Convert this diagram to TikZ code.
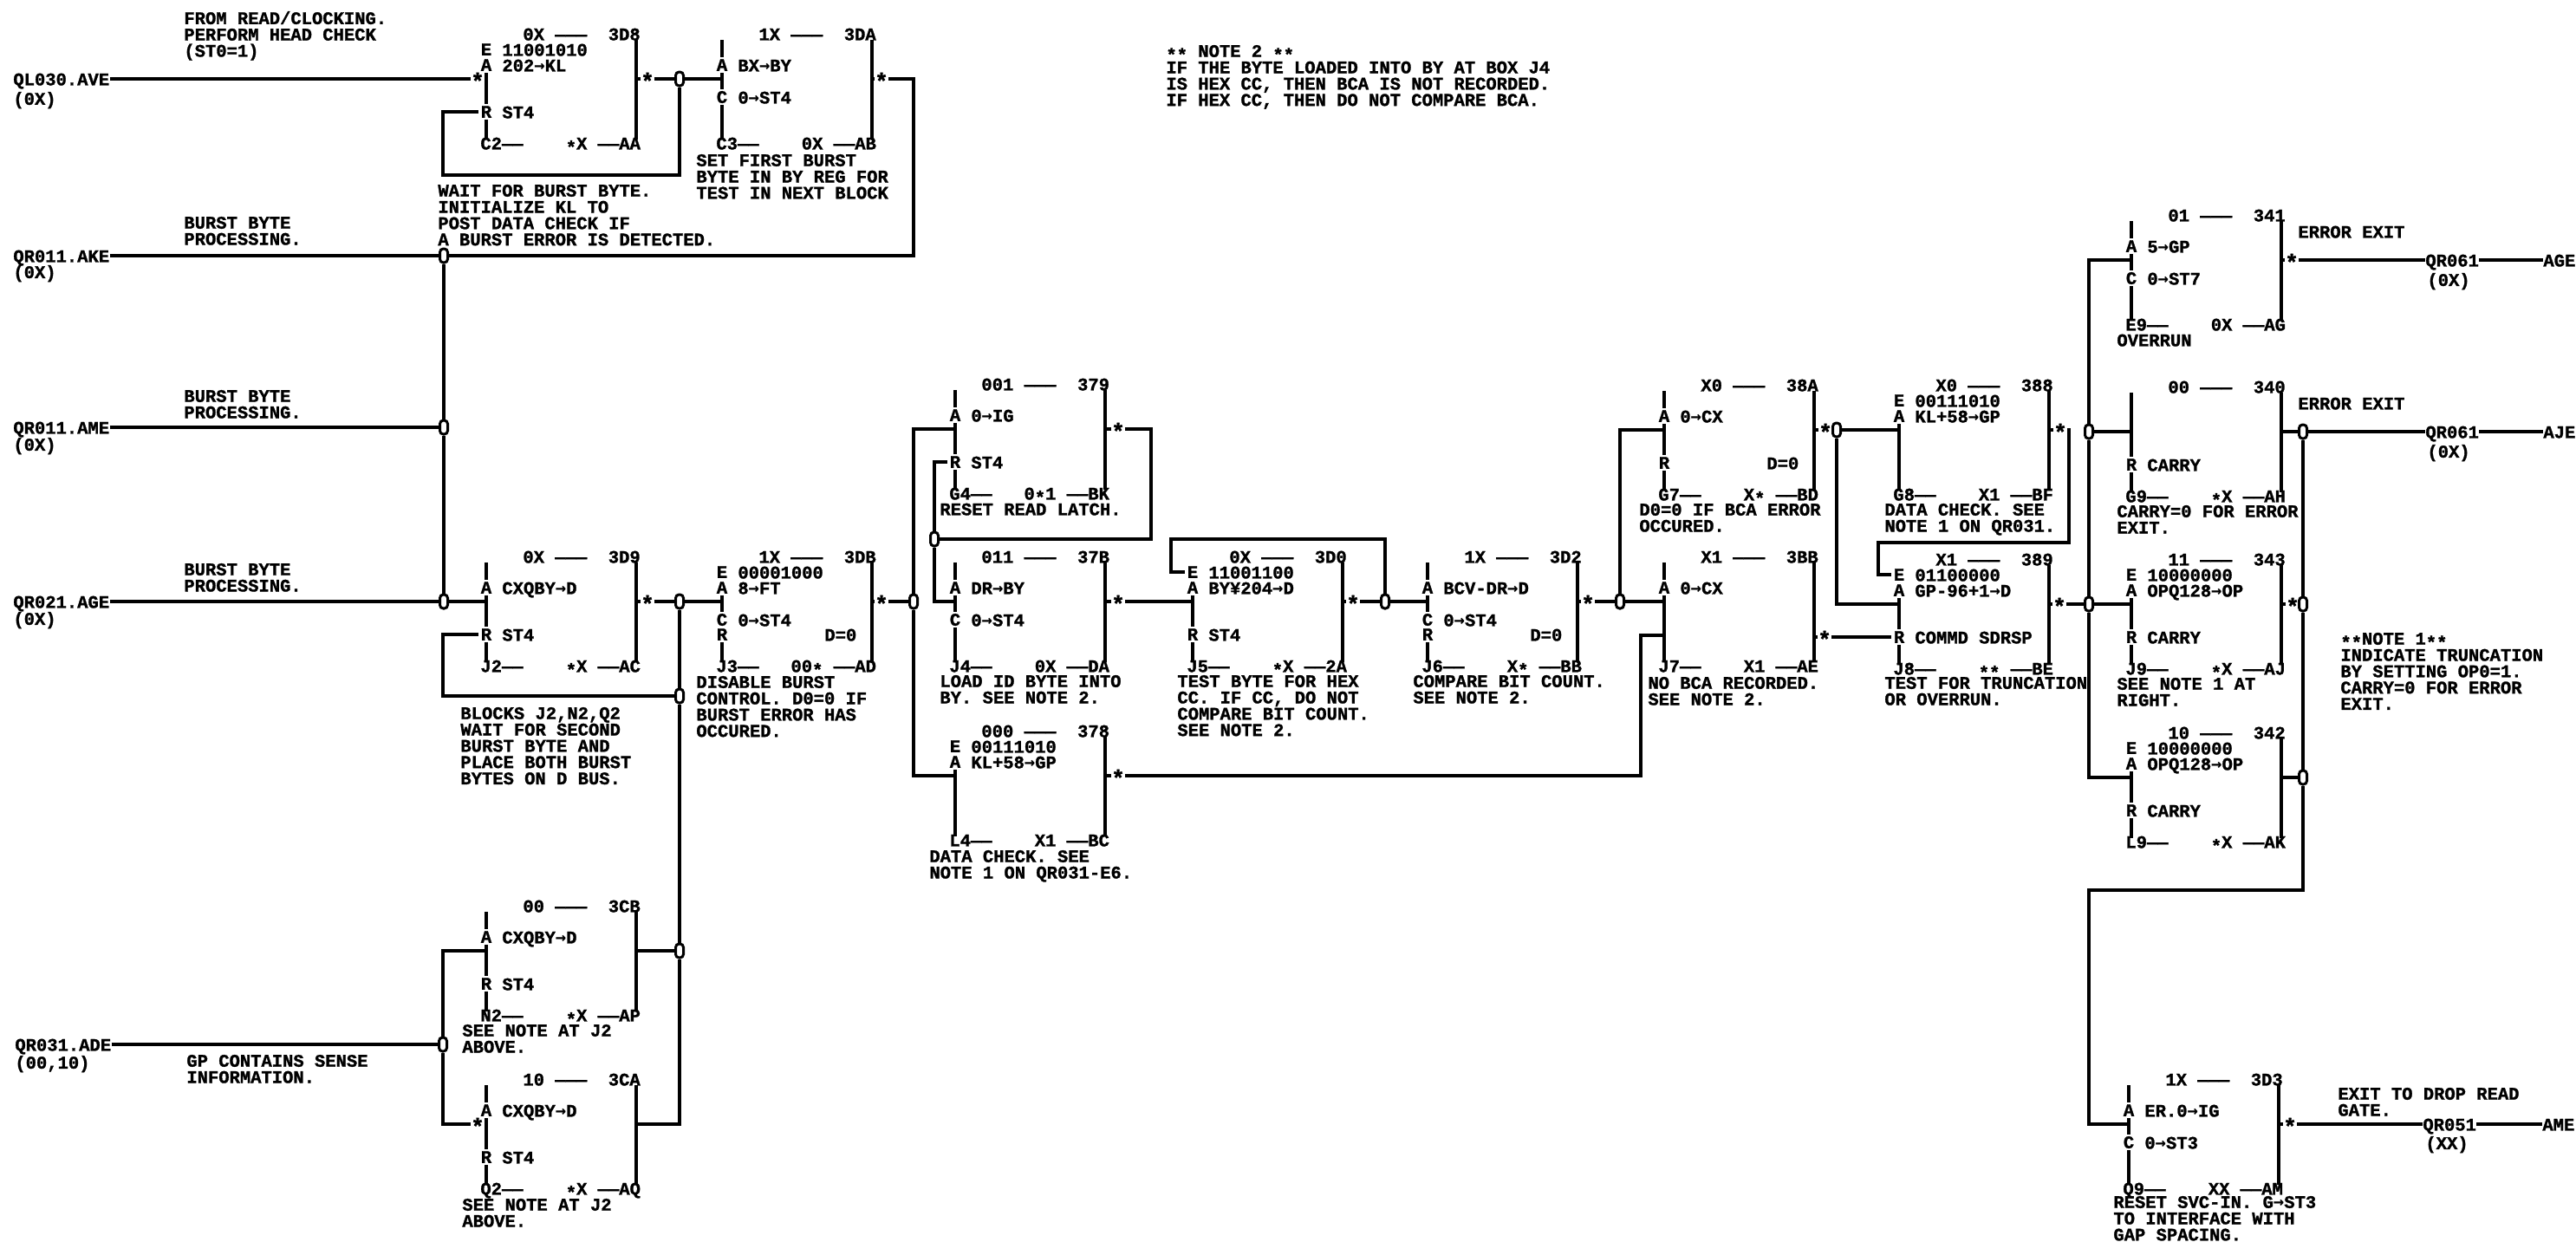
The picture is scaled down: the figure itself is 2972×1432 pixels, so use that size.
\documentclass[tikz,border=0pt]{standalone}
\usepackage{fontspec}
\newfontfamily\ibmf{Liberation Mono}[BoldFeatures={FakeBold=1.3}]
\newfontfamily\arf{DejaVu Sans Mono}
\newcommand\ibm{\ibmf\bfseries\fontsize{10.25}{9.4}\selectfont}
\newcommand\ar{{\arf\bfseries\fontsize{10.25}{9.4}\selectfont →}}
\newcommand\st{\raisebox{-.22em}{*}}
\newcommand\bc[1]{~~~~#1~}
\newcommand\bcc[1]{~~~#1~}
\def\rowE{18}\def\rowA{36}\def\rowC{73}\def\rowR{90}
\tikzset{
 wire/.style={line width=2.2pt},
 bline/.style={line width=1.8pt},
 tx/.style={font=\ibm,inner sep=0pt,anchor=north west,align=left,execute at begin node={\rule{0pt}{7.2pt}}},
 letter/.style={font=\ibm,inner sep=1pt,fill=white,anchor=center},
 junc/.style={draw,line width=1.5pt,fill=white,rounded corners=2pt,minimum width=4.5pt,minimum height=8pt,inner sep=0pt},
 stm/.style={font=\ibm\fontsize{13}{13}\selectfont,inner sep=0pt,text height=.6em,text depth=0pt},
}
\newcommand\lab[4]{\node[tx] (#1) at (#2,#3-7.4) {#4};}
\newcommand\blk[9][42]{%
 \def\curN{#2}\def\curL{#3}\def\curT{#4}%
 \coordinate (#2-in) at (#3,#4+52);
 \coordinate (#2-out) at (#3+173,#4+52);
 \coordinate (#2-lt) at (#3,#4+7);
 \coordinate (#2-lb) at (#3,#4+122);
 \coordinate (#2-rt) at (#3+173,#4+7);
 \coordinate (#2-rb) at (#3+173,#4+122);
 \draw[bline] (#2-lt) -- (#2-lb);
 \draw[bline] (#2-rt) -- (#2-rb);
 \node[tx] (#2-top) at (#3+#1,#4-7.4) {#5~———~~#6};
 \node[tx] (#2-bot) at (#3-7,#4+126-7.4) {#7——#8——#9};
}
\newcommand\rw[2]{%
 \node[letter] (\curN-#1) at (\curL,\curT+\csname row#1\endcsname) {#1};
 \node[tx] (\curN-#1t) at (\curL+18,\curT+\csname row#1\endcsname-7.4) {#2};
}
% E row: the left rule starts only below the E and A letters
\newcommand\rwE[1]{%
 \fill[white] (\curL-7,\curT+4) rectangle (\curL+7,\curT+30);
 \rw{E}{#1}
}
\newcommand\dz{\node[tx] (\curN-dz) at (\curL+118,\curT+90-7.4) {D=0};}
\begin{document}
\begin{tikzpicture}[x=0.5pt,y=-0.5pt]
\useasboundingbox[fill=white] (0,0) rectangle (2972,1432);
% blocks
\blk{bC2}{561}{39}{0X}{3D8}{C2}{\bc{\st X}}{AA}\rwE{11001010}\rw{A}{202\ar KL}\rw{R}{ST4}
\blk{bC3}{833}{39}{1X}{3DA}{C3}{\bc{0X}}{AB}\rw{A}{BX\ar BY}\rw{C}{0\ar ST4}
\blk{bJ2}{561}{642}{0X}{3D9}{J2}{\bc{\st X}}{AC}\rw{A}{CXQBY\ar D}\rw{R}{ST4}
\blk{bJ3}{833}{642}{1X}{3DB}{J3}{\bcc{00\st}}{AD}\rwE{00001000}\rw{A}{8\ar FT}\rw{C}{0\ar ST4}\rw{R}{}\dz
\blk[30]{bG4}{1102}{443}{001}{379}{G4}{\bcc{0\st 1}}{BK}\rw{A}{0\ar IG}\rw{R}{ST4}
\blk[30]{bJ4}{1102}{642}{011}{37B}{J4}{\bc{0X}}{DA}\rw{A}{DR\ar BY}\rw{C}{0\ar ST4}
\blk[30]{bL4}{1102}{843}{000}{378}{L4}{\bc{X1}}{BC}\rwE{00111010}\rw{A}{KL+58\ar GP}
\blk{bJ5}{1376}{642}{0X}{3D0}{J5}{\bc{\st X}}{2A}\rwE{11001100}\rw{A}{BY¥204\ar D}\rw{R}{ST4}
\blk{bJ6}{1647}{642}{1X}{3D2}{J6}{\bc{X\st}}{BB}\rw{A}{BCV-DR\ar D}\rw{C}{0\ar ST4}\rw{R}{}\dz
\blk{bG7}{1920}{444}{X0}{38A}{G7}{\bc{X\st}}{BD}\rw{A}{0\ar CX}\rw{R}{}\dz
\blk{bJ7}{1920}{642}{X1}{3BB}{J7}{\bc{X1}}{AE}\rw{A}{0\ar CX}
\blk{bG8}{2191}{444}{X0}{388}{G8}{\bc{X1}}{BF}\rwE{00111010}\rw{A}{KL+58\ar GP}
\blk{bJ8}{2191}{645}{X1}{389}{J8}{\bc{\st\st}}{BE}\rwE{01100000}\rw{A}{GP-96+1\ar D}\rw{R}{COMMD SDRSP}
\blk{bE9}{2459}{248}{01}{341}{E9}{\bc{0X}}{AG}\rw{A}{5\ar GP}\rw{C}{0\ar ST7}
\blk{bG9}{2459}{446}{00}{340}{G9}{\bc{\st X}}{AH}\rw{R}{CARRY}
\blk{bJ9}{2459}{645}{11}{343}{J9}{\bc{\st X}}{AJ}\rwE{10000000}\rw{A}{OPQ128\ar OP}\rw{R}{CARRY}
\blk{bL9}{2459}{845}{10}{342}{L9}{\bc{\st X}}{AK}\rwE{10000000}\rw{A}{OPQ128\ar OP}\rw{R}{CARRY}
\blk{bN2}{561}{1045}{00}{3CB}{N2}{\bc{\st X}}{AP}\rw{A}{CXQBY\ar D}\rw{R}{ST4}
\blk{bQ2}{561}{1245}{10}{3CA}{Q2}{\bc{\st X}}{AQ}\rw{A}{CXQBY\ar D}\rw{R}{ST4}
\blk{bQ9}{2456}{1245}{1X}{3D3}{Q9}{\bc{XX}}{AM}\rw{A}{ER.0\ar IG}\rw{C}{0\ar ST3}
% free text
\lab{tFr}{212}{20}{FROM READ/CLOCKING.\\PERFORM HEAD CHECK\\(ST0=1)}
\lab{in1}{15}{91}{QL030.AVE}\lab{in1p}{15}{113}{(0X)}
\lab{in2}{15}{295}{QR011.AKE}\lab{in2p}{15}{313}{(0X)}
\lab{in3}{15}{493}{QR011.AME}\lab{in3p}{15}{512}{(0X)}
\lab{in4}{15}{694}{QR021.AGE}\lab{in4p}{15}{713}{(0X)}
\lab{in5}{17}{1205}{QR031.ADE}\lab{in5p}{17}{1225}{(00,10)}
\lab{tB1}{212}{257}{BURST BYTE\\PROCESSING.}
\lab{tB2}{212}{457}{BURST BYTE\\PROCESSING.}
\lab{tB3}{212}{657}{BURST BYTE\\PROCESSING.}
\lab{tGP}{215}{1224}{GP CONTAINS SENSE\\INFORMATION.}
\lab{tC2}{505}{220}{WAIT FOR BURST BYTE.\\INITIALIZE KL TO\\POST DATA CHECK IF\\A BURST ERROR IS DETECTED.}
\lab{tC3}{803}{185}{SET FIRST BURST\\BYTE IN BY REG FOR\\TEST IN NEXT BLOCK}
\lab{tJ2}{531}{823}{BLOCKS J2,N2,Q2\\WAIT FOR SECOND\\BURST BYTE AND\\PLACE BOTH BURST\\BYTES ON D BUS.}
\lab{tJ3}{803}{787}{DISABLE BURST\\CONTROL. D0=0 IF\\BURST ERROR HAS\\OCCURED.}
\lab{tN2}{533}{1189}{SEE NOTE AT J2\\ABOVE.}
\lab{tQ2}{533}{1390}{SEE NOTE AT J2\\ABOVE.}
\lab{tG4}{1084}{587}{RESET READ LATCH.}
\lab{tJ4}{1084}{786}{LOAD ID BYTE INTO\\BY. SEE NOTE 2.}
\lab{tL4}{1072}{988}{DATA CHECK. SEE\\NOTE 1 ON QR031-E6.}
\lab{tJ5}{1358}{786}{TEST BYTE FOR HEX\\CC. IF CC, DO NOT\\COMPARE BIT COUNT.\\SEE NOTE 2.}
\lab{tJ6}{1630}{786}{COMPARE BIT COUNT.\\SEE NOTE 2.}
\lab{tG7}{1891}{588}{D0=0 IF BCA ERROR\\OCCURED.}
\lab{tJ7}{1901}{788}{NO BCA RECORDED.\\SEE NOTE 2.}
\lab{tG8}{2174}{588}{DATA CHECK. SEE\\NOTE 1 ON QR031.}
\lab{tJ8}{2174}{788}{TEST FOR TRUNCATION\\OR OVERRUN.}
\lab{tE9}{2442}{392}{OVERRUN}
\lab{tG9}{2442}{590}{CARRY=0 FOR ERROR\\EXIT.}
\lab{tJ9}{2442}{789}{SEE NOTE 1 AT\\RIGHT.}
\lab{tQ9}{2438}{1387}{RESET SVC-IN. G\ar ST3\\TO INTERFACE WITH\\GAP SPACING.}
\lab{tEE1}{2651}{267}{ERROR EXIT}
\lab{tEE2}{2651}{465}{ERROR EXIT}
\lab{tDrop}{2697}{1262}{EXIT TO DROP READ\\GATE.}
\lab{tN1}{2700}{737}{\st\st NOTE 1\st\st\\INDICATE TRUNCATION\\BY SETTING OP0=1.\\CARRY=0 FOR ERROR\\EXIT.}
\lab{tN22}{1345}{59}{\st\st\ NOTE 2 \st\st\\IF THE BYTE LOADED INTO BY AT BOX J4\\IS HEX CC, THEN BCA IS NOT RECORDED.\\IF HEX CC, THEN DO NOT COMPARE BCA.}
\lab{ex1}{2798}{300}{QR061}\lab{ex1p}{2800}{322}{(0X)}\lab{ex1b}{2934}{300}{AGE}
\lab{ex2}{2798}{498}{QR061}\lab{ex2p}{2800}{520}{(0X)}\lab{ex2b}{2934}{498}{AJE}
\lab{ex3}{2795}{1297}{QR051}\lab{ex3p}{2798}{1318}{(XX)}\lab{ex3b}{2933}{1297}{AME}
% stars
\node[stm] (s1) at (551,91) {\st};
\node[stm] (s2) at (747,91) {\st};
\node[stm] (s3) at (1017,91) {\st};
\node[stm] (s4) at (747,694) {\st};
\node[stm] (s5) at (551,1297) {\st};
\node[stm] (s6) at (1017,694) {\st};
\node[stm] (s7) at (1290,495) {\st};
\node[stm] (s8) at (1290,694) {\st};
\node[stm] (s9) at (1561,694) {\st};
\node[stm] (s10) at (1832,694) {\st};
\node[stm] (s11) at (1290,895) {\st};
\node[stm] (s12) at (2106,496) {\st};
\node[stm] (s13) at (2377,496) {\st};
\node[stm] (s14) at (2105,735) {\st};
\node[stm] (s15) at (2376,697) {\st};
\node[stm] (s16) at (2644,300) {\st};
\node[stm] (s17) at (2645,697) {\st};
\node[stm] (s18) at (2642,1297) {\st};
% junctions
\node[junc] (j1) at (784,91) {};
\node[junc] (jB) at (512,295) {};
\node[junc] (jC) at (512,493) {};
\node[junc] (jD) at (512,694) {};
\node[junc] (j5) at (784,694) {};
\node[junc] (j6) at (784,803) {};
\node[junc] (j7) at (784,1097) {};
\node[junc] (j8) at (511,1205) {};
\node[junc] (j9) at (1054,694) {};
\node[junc] (j10) at (1078,622) {};
\node[junc] (j11) at (1598,694) {};
\node[junc] (j12) at (1869,694) {};
\node[junc] (j13) at (2119,496) {};
\node[junc] (j14) at (2410,697) {};
\node[junc] (j15) at (2410,498) {};
\node[junc] (j16) at (2657,498) {};
\node[junc] (j17) at (2657,697) {};
\node[junc] (j18) at (2657,897) {};
% bend points
\coordinate (p1) at (784,202);
\coordinate (p2) at (511,202);
\coordinate (p3) at (1054,295);
\coordinate (p4) at (511,803);
\coordinate (p5) at (784,1297);
\coordinate (p6) at (1328,622);
\coordinate (p7) at (1328,495);
\coordinate (p8) at (1351,622);
\coordinate (p9) at (1598,622);
\coordinate (p10) at (1893,895);
\coordinate (p11) at (1920,733);
\coordinate (p12) at (2387,496);
\coordinate (p13) at (2387,626);
\coordinate (p14) at (2167,626);
\coordinate (p15) at (2093,735);
\coordinate (p16) at (2657,1027);
\coordinate (p17) at (2410,1027);
\coordinate (p18) at (1893,733);
\coordinate (p19) at (511,1297);
% connectors
\draw[wire] (in1.east |- s1) -- (s1);
\draw[wire] (s1) -- (bC2-in);
\draw[wire] (bC2-out) -- (s2);
\draw[wire] (s2) -- (j1);
\draw[wire] (j1) -- (bC3-in);
\draw[wire] (j1) -- (p1) -- (p2) |- (bC2-R);
\draw[wire] (bC3-out) -- (s3);
\draw[wire] (s3) -| (p3) -- (jB);
\draw[wire] (in2.east |- jB) -- (jB);
\draw[wire] (jB) -- (jC);
\draw[wire] (jC) -- (jD);
\draw[wire] (in3.east |- jC) -- (jC);
\draw[wire] (in4.east |- jD) -- (jD);
\draw[wire] (jD) -- (bJ2-in);
\draw[wire] (bJ2-out) -- (s4);
\draw[wire] (s4) -- (j5);
\draw[wire] (j5) -- (bJ3-in);
\draw[wire] (j5) -- (j6);
\draw[wire] (j6) -- (j7);
\draw[wire] (j6) -- (p4) |- (bJ2-R);
\draw[wire] (j7) -- (bN2-out);
\draw[wire] (j7) -- (p5) -- (bQ2-out);
\draw[wire] (in5.east |- j8) -- (j8);
\draw[wire] (j8) |- (bN2-in);
\draw[wire] (j8) -- (p19) -- (s5);
\draw[wire] (s5) -- (bQ2-in);
\draw[wire] (bJ3-out) -- (s6);
\draw[wire] (s6) -- (j9);
\draw[wire] (j9) |- (bG4-in);
\draw[wire] (j9) |- (bL4-in);
\draw[wire] (bG4-out) -- (s7);
\draw[wire] (s7) -- (p7) -- (p6) -- (j10);
\draw[wire] (j10) |- (bG4-R);
\draw[wire] (j10) |- (bJ4-in);
\draw[wire] (bJ4-out) -- (s8);
\draw[wire] (s8) -- (bJ5-in);
\draw[wire] (bJ5-out) -- (s9);
\draw[wire] (s9) -- (j11);
\draw[wire] (j11) -- (bJ6-in);
\draw[wire] (j11) -- (p9) -- (p8) |- (bJ5-E);
\draw[wire] (bJ6-out) -- (s10);
\draw[wire] (s10) -- (j12);
\draw[wire] (j12) -- (bJ7-in);
\draw[wire] (j12) |- (bG7-in);
\draw[wire] (bL4-out) -- (s11);
\draw[wire] (s11) -- (p10) -- (p18) -- (p11);
\draw[wire] (bG7-out) -- (s12);
\draw[wire] (s12) -- (j13);
\draw[wire] (j13) -- (bG8-in);
\draw[wire] (j13) |- (bJ8-in);
\draw[wire] (bG8-out) -- (s13);
\draw[wire] (s13) -- (p12) -- (p13) -- (p14) |- (bJ8-E);
\draw[wire] (p15) -- (s14);
\draw[wire] (s14) -- (bJ8-R);
\draw[wire] (bJ8-out) -- (s15);
\draw[wire] (s15) -- (j14);
\draw[wire] (j14) -- (bJ9-in);
\draw[wire] (j14) -- (j15);
\draw[wire] (j15) -- (bG9-in);
\draw[wire] (j15) |- (bE9-in);
\draw[wire] (j14) |- (bL9-in);
\draw[wire] (bE9-out) -- (s16);
\draw[wire] (s16) -- (ex1.west |- s16);
\draw[wire] (ex1.east |- s16) -- (ex1b.west |- s16);
\draw[wire] (bG9-out) -- (j16);
\draw[wire] (j16) -- (ex2.west |- j16);
\draw[wire] (ex2.east |- j16) -- (ex2b.west |- j16);
\draw[wire] (j16) -- (j17);
\draw[wire] (bJ9-out) -- (s17);
\draw[wire] (s17) -- (j17);
\draw[wire] (j17) -- (j18);
\draw[wire] (bL9-out) -- (j18);
\draw[wire] (j18) -- (p16) -- (p17) |- (bQ9-in);
\draw[wire] (bQ9-out) -- (s18);
\draw[wire] (s18) -- (ex3.west |- s18);
\draw[wire] (ex3.east |- s18) -- (ex3b.west |- s18);
\end{tikzpicture}
\end{document}
